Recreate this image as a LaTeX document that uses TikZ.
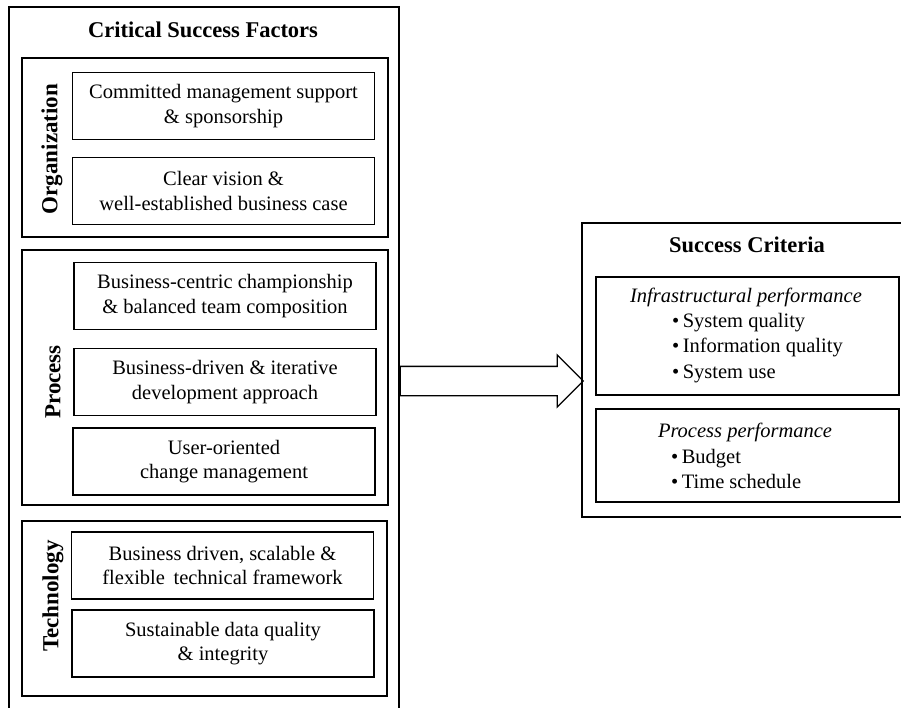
\documentclass[tikz,border=0pt]{standalone}
\usepackage{fontspec}
\setmainfont{Liberation Serif}
\usetikzlibrary{shapes.arrows}

\begin{document}
\begin{tikzpicture}[x=1pt,y=-1pt,
  frame/.style={draw, line width=1.3pt, inner sep=0pt},
  factor/.style={frame, minimum width=302pt, minimum height=67pt, align=center,
    font=\fontsize{20.5}{24.5}\selectfont},
  crit/.style={frame, minimum width=303pt},
  title/.style={font=\fontsize{22.5}{27}\selectfont\bfseries},
  side/.style={rotate=90, font=\fontsize{23}{27}\selectfont\bfseries},
  listing/.style={anchor=west, align=left, inner sep=0pt, font=\fontsize{20.5}{25.5}\selectfont},
  bigarrow/.style={draw, single arrow, line width=1.3pt, single arrow head extend=11.5pt,
    minimum height=183pt, inner xsep=0pt, inner ysep=14pt, text height=0pt, text depth=0pt}]
\useasboundingbox[fill=white] (0,0) rectangle (901,707);

% critical success factors
\node[frame, minimum width=390pt, minimum height=705pt] (csf) at (204,359.5) {};
\node[title] (csftitle) at (203,30) {Critical Success Factors};

\node[frame, minimum width=366pt, minimum height=179pt] (org) at (205,147.5) {};
\node[side] (orglabel) at (52,149) {Organization};
\node[factor] (org1) at (223.5,106) {Committed management support\\ \& sponsorship};
\node[factor] (org2) at (223.5,191) {Clear vision \&\\ well-established business case};

\node[frame, minimum width=366pt, minimum height=255pt] (proc) at (205,377.5) {};
\node[side] (proclabel) at (53,382) {Process};
\node[factor] (proc1) at (225,296) {Business-centric championship\\ \& balanced team composition};
\node[factor] (proc2) at (225,382) {Business-driven \& iterative\\ development approach};
\node[factor] (proc3) at (224,461.5) {User-oriented\\ change management};

\node[frame, minimum width=365pt, minimum height=175pt] (tech) at (204.5,608.5) {};
\node[side] (techlabel) at (53,596) {Technology};
\node[factor] (tech1) at (222.5,565.5) {Business driven, scalable \&\\ flexible\, technical framework};
\node[factor] (tech2) at (223,643.5) {Sustainable data quality\\ \& integrity};

% arrow
\node[bigarrow, anchor=tail] (arr) at (csf.east |- 0,381) {};

% success criteria
\node[frame, minimum width=328pt, minimum height=294pt] (sc) at (746,370) {};
\node[title] (sctitle) at (747,245) {Success Criteria};

\node[crit, minimum height=118pt] (infra) at (747.5,336) {};
\node[font=\fontsize{20.5}{25}\selectfont\itshape] (infrahead) at (746,297) {Infrastructural performance};
\node[listing] (infralist) at (672,348) {\textbullet\,System quality\\ \textbullet\,Information quality\\ \textbullet\,System use};

\node[crit, minimum height=93pt] (perf) at (747.5,455.5) {};
\node[font=\fontsize{20.5}{25}\selectfont\itshape] (perfhead) at (745,432) {Process performance};
\node[listing] (perflist) at (671,469) {\textbullet\,Budget\\ \textbullet\,Time schedule};
\end{tikzpicture}
\end{document}
